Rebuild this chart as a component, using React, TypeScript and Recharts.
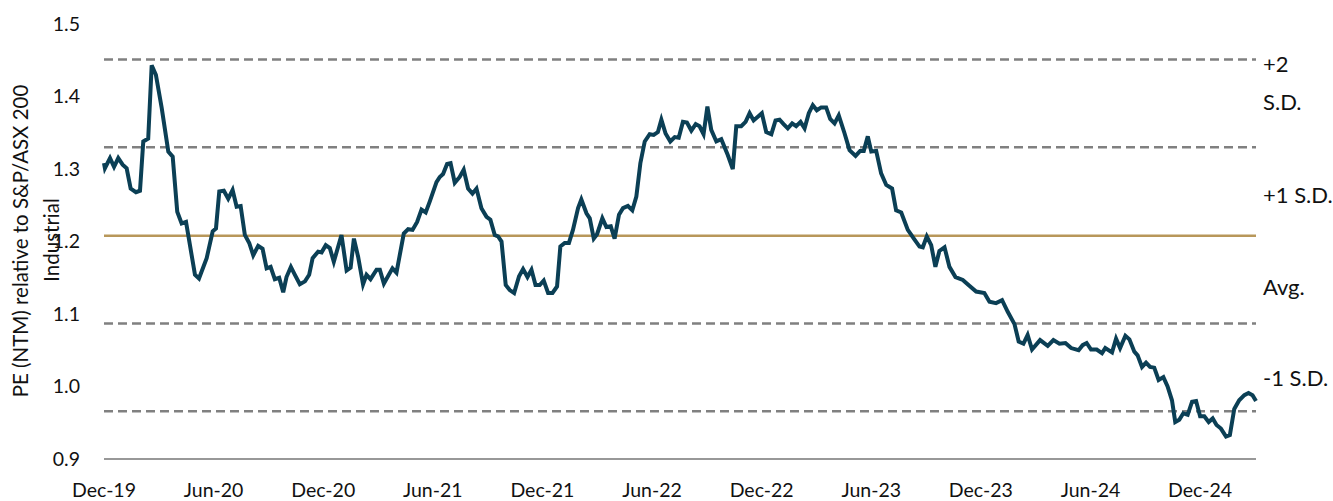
import React from "react";
import { LineChart, Line, XAxis, YAxis, ReferenceLine } from "recharts";

// months since Dec-19 (x) and relative PE (y)
const months = [
  0, 0.05, 0.33, 0.55, 0.78, 1.02, 1.24, 1.46, 1.75, 1.97, 2.15, 2.42, 2.61, 2.84, 3.16, 3.52, 3.76, 4.01, 4.25, 4.49,
  4.98, 5.2, 5.62, 5.95, 6.13, 6.31, 6.56, 6.8, 7.04, 7.26, 7.48, 7.71, 7.95, 8.17, 8.44, 8.68, 8.9, 9.12, 9.35, 9.59,
  9.81, 9.99, 10.23, 10.45, 10.72, 11.0, 11.23, 11.42, 11.72, 11.91, 12.14, 12.36, 12.58, 13.0, 13.28, 13.5, 13.68, 13.91, 14.18, 14.37,
  14.59, 14.92, 15.1, 15.32, 15.79, 16.01, 16.41, 16.65, 16.89, 17.14, 17.38, 17.61, 17.83, 18.2, 18.38, 18.56, 18.78, 18.97, 19.2, 19.47,
  19.69, 19.93, 20.17, 20.39, 20.66, 20.94, 21.15, 21.39, 21.57, 21.76, 21.99, 22.21, 22.45, 22.72, 22.94, 23.18, 23.4, 23.62, 23.85, 24.07,
  24.31, 24.55, 24.8, 24.98, 25.22, 25.45, 25.67, 25.95, 26.13, 26.41, 26.59, 26.81, 26.99, 27.28, 27.5, 27.74, 27.95, 28.19, 28.41, 28.68,
  28.92, 29.14, 29.36, 29.6, 29.87, 30.09, 30.32, 30.51, 30.74, 31.0, 31.24, 31.46, 31.69, 31.91, 32.15, 32.39, 32.6, 32.82, 33.03, 33.24,
  33.52, 33.79, 34.15, 34.42, 34.61, 34.88, 35.12, 35.34, 35.56, 36.01, 36.25, 36.53, 36.76, 36.98, 37.2, 37.43, 37.67, 37.89, 38.13, 38.35,
  38.58, 38.8, 39.02, 39.26, 39.53, 39.75, 39.99, 40.22, 40.54, 40.81, 41.14, 41.39, 41.59, 41.81, 42.0, 42.27, 42.54, 42.82, 43.14, 43.36,
  43.64, 44.0, 44.36, 44.64, 44.82, 45.04, 45.28, 45.51, 45.73, 46.01, 46.28, 46.61, 47.01, 47.37, 47.74, 48.19, 48.47, 48.83, 49.16, 49.47,
  49.84, 50.07, 50.33, 50.56, 50.8, 51.24, 51.66, 51.97, 52.3, 52.63, 52.94, 53.35, 53.57, 53.79, 54.03, 54.34, 54.63, 54.81, 55.18, 55.4,
  55.62, 55.91, 56.13, 56.4, 56.58, 56.82, 57.04, 57.26, 57.49, 57.73, 57.99, 58.22, 58.46, 58.64, 58.86, 59.08, 59.32, 59.56, 59.78, 60.0,
  60.23, 60.47, 60.69, 60.9, 61.14, 61.42, 61.63, 61.87, 62.14, 62.42, 62.65, 62.87, 63.06,
];

const relativePE = [
  1.308, 1.301, 1.315, 1.303, 1.315, 1.306, 1.301, 1.273, 1.268, 1.27, 1.338, 1.342, 1.443, 1.43, 1.384, 1.324, 1.317, 1.241, 1.225, 1.227,
  1.154, 1.149, 1.177, 1.214, 1.218, 1.269, 1.27, 1.259, 1.271, 1.248, 1.249, 1.209, 1.198, 1.181, 1.194, 1.19, 1.163, 1.165, 1.148, 1.15,
  1.13, 1.151, 1.165, 1.154, 1.141, 1.145, 1.154, 1.177, 1.186, 1.185, 1.195, 1.191, 1.172, 1.209, 1.16, 1.164, 1.204, 1.179, 1.141, 1.154,
  1.148, 1.161, 1.161, 1.142, 1.163, 1.157, 1.211, 1.217, 1.216, 1.227, 1.244, 1.24, 1.255, 1.282, 1.289, 1.293, 1.307, 1.308, 1.281, 1.289,
  1.299, 1.273, 1.266, 1.273, 1.246, 1.234, 1.23, 1.209, 1.207, 1.2, 1.14, 1.133, 1.129, 1.152, 1.162, 1.151, 1.161, 1.14, 1.14, 1.146,
  1.129, 1.129, 1.138, 1.193, 1.198, 1.198, 1.216, 1.246, 1.258, 1.239, 1.232, 1.204, 1.21, 1.232, 1.22, 1.221, 1.204, 1.237, 1.246, 1.249,
  1.243, 1.262, 1.308, 1.338, 1.348, 1.347, 1.351, 1.368, 1.349, 1.338, 1.344, 1.343, 1.365, 1.364, 1.353, 1.362, 1.359, 1.348, 1.386, 1.354,
  1.338, 1.341, 1.319, 1.3, 1.359, 1.359, 1.365, 1.377, 1.367, 1.377, 1.351, 1.348, 1.367, 1.368, 1.362, 1.356, 1.363, 1.359, 1.365, 1.356,
  1.377, 1.388, 1.381, 1.385, 1.385, 1.369, 1.363, 1.374, 1.349, 1.326, 1.318, 1.325, 1.325, 1.345, 1.324, 1.325, 1.294, 1.278, 1.273, 1.243,
  1.24, 1.216, 1.203, 1.193, 1.192, 1.207, 1.195, 1.165, 1.187, 1.192, 1.165, 1.151, 1.147, 1.139, 1.131, 1.129, 1.117, 1.115, 1.119, 1.103,
  1.086, 1.062, 1.059, 1.071, 1.051, 1.064, 1.056, 1.064, 1.059, 1.06, 1.053, 1.05, 1.057, 1.06, 1.051, 1.051, 1.046, 1.053, 1.047, 1.066,
  1.053, 1.07, 1.065, 1.048, 1.043, 1.027, 1.033, 1.027, 1.026, 1.009, 1.013, 1.0, 0.981, 0.951, 0.954, 0.963, 0.961, 0.979, 0.98, 0.959,
  0.959, 0.951, 0.956, 0.947, 0.942, 0.931, 0.933, 0.969, 0.981, 0.988, 0.991, 0.988, 0.98,
];

const tickMonths = [0, 6, 12, 18, 24, 30, 36, 42, 48, 54, 60];
const tickLabels = ["Dec-19", "Jun-20", "Dec-20", "Jun-21", "Dec-21", "Jun-22", "Dec-22", "Jun-23", "Dec-23", "Jun-24", "Dec-24"];
const yTicks = [0.9, 1.0, 1.1, 1.2, 1.3, 1.4, 1.5];

const average = 1.208;
const sdBands = [1.451, 1.33, 1.087, 0.966]; // +2, +1, -1, -2 S.D.

const data = months.map((m, i) => ({ m, pe: relativePE[i] }));

const FONT = "Lato, 'Noto Sans', sans-serif";
const TEXT = "#111";

export default function App() {
  return (
    <div style={{ position: "absolute", left: 0, top: 0, width: 1333, height: 501, background: "#fff" }}>
      <LineChart width={1333} height={501} data={data} margin={{ top: 24, right: 77, left: 0, bottom: 0 }}>
        <XAxis
          dataKey="m"
          type="number"
          domain={[0, "dataMax"]}
          ticks={tickMonths}
          tickFormatter={(v) => tickLabels[tickMonths.indexOf(v)] ?? ""}
          height={42}
          tickLine={false}
          tickSize={0}
          tickMargin={24}
          axisLine={{ stroke: "#333", strokeWidth: 1.2 }}
          tick={{ fill: TEXT, fontSize: 19.5, fontFamily: FONT }}
          interval={0}
        />
        <YAxis
          type="number"
          domain={[0.9, 1.5]}
          ticks={yTicks}
          tickFormatter={(v) => v.toFixed(1)}
          width={104}
          tickLine={false}
          axisLine={false}
          tickSize={0}
          tickMargin={24}
          tick={{ fill: TEXT, fontSize: 19.5, fontFamily: FONT }}
        />
        {sdBands.map((v, i) => (
          <ReferenceLine key={i} y={v} stroke="#808080" strokeWidth={2.5} strokeDasharray="9 5" />
        ))}
        <ReferenceLine y={average} stroke="#b8975a" strokeWidth={2.5} />
        <Line
          type="linear"
          dataKey="pe"
          stroke="#0b3f55"
          strokeWidth={4}
          dot={false}
          isAnimationActive={false}
        />
      </LineChart>
      <svg width={1333} height={501} style={{ position: "absolute", left: 0, top: 0, pointerEvents: "none" }}>
        <g fontFamily={FONT} fill={TEXT}>
          <text transform="translate(28,241) rotate(-90)" textAnchor="middle" fontSize={20.5}>
            PE (NTM) relative to S&amp;P/ASX 200
          </text>
          <text transform="translate(59,240) rotate(-90)" textAnchor="middle" fontSize={20.5}>
            Industrial
          </text>
          <g fontSize={22}>
            <text x={1263} y={72}>+2</text>
            <text x={1263} y={110}>S.D.</text>
            <text x={1263} y={203}>+1 S.D.</text>
            <text x={1263} y={295}>Avg.</text>
            <text x={1263} y={386}>-1 S.D.</text>
          </g>
        </g>
      </svg>
    </div>
  );
}
